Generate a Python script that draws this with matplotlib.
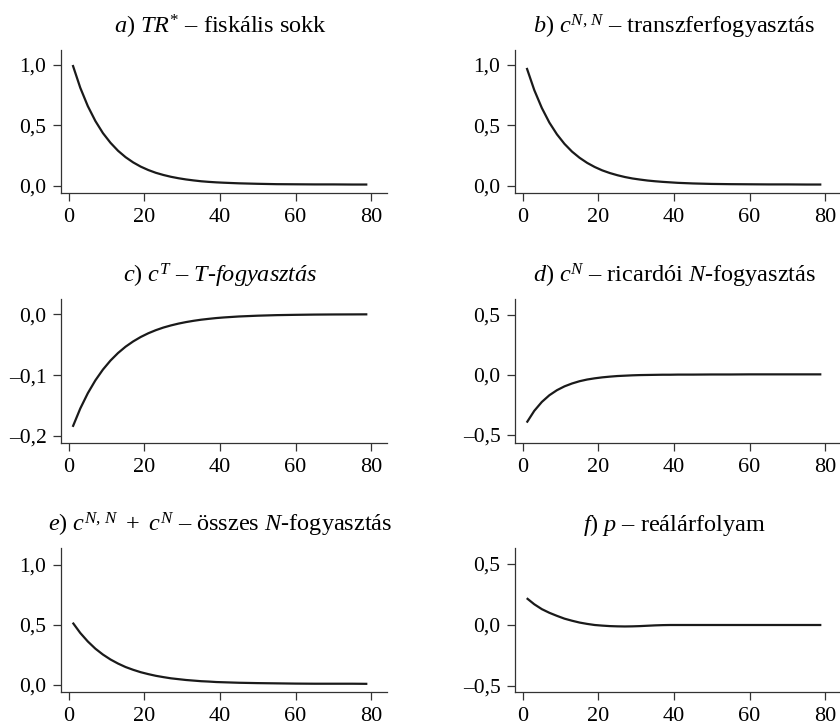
import matplotlib
matplotlib.use("Agg")
import matplotlib.pyplot as plt
from matplotlib.ticker import FuncFormatter

plt.rcParams['font.family'] = ['Liberation Serif', 'DejaVu Serif']
plt.rcParams['mathtext.fontset'] = 'custom'
plt.rcParams['mathtext.rm'] = 'Liberation Serif'
plt.rcParams['mathtext.it'] = 'Liberation Serif:italic'
plt.rcParams['mathtext.bf'] = 'Liberation Serif:bold'

# ---- adatok (leolvasva az ábráról) ----
periods = [1, 3, 5, 7, 9, 11, 13, 15, 17, 19, 21, 23, 25, 27, 29, 31, 33, 35, 37, 39, 41,
           45, 50, 55, 60, 65, 70, 75, 79]

tr_shock = [1.000, 0.812, 0.660, 0.537, 0.437, 0.357, 0.291, 0.238, 0.195, 0.160, 0.132,
            0.109, 0.091, 0.076, 0.064, 0.054, 0.046, 0.039, 0.034, 0.030, 0.027,
            0.022, 0.018, 0.015, 0.014, 0.013, 0.013, 0.012, 0.012]

c_transfer = [0.976, 0.793, 0.645, 0.524, 0.427, 0.348, 0.284, 0.233, 0.191, 0.157, 0.129,
              0.107, 0.089, 0.074, 0.062, 0.053, 0.045, 0.039, 0.034, 0.030, 0.026,
              0.021, 0.017, 0.015, 0.014, 0.013, 0.013, 0.012, 0.012]

c_tradable = [-0.1850, -0.1549, -0.1297, -0.1086, -0.0909, -0.0761, -0.0637, -0.0533,
              -0.0447, -0.0374, -0.0313, -0.0262, -0.0219, -0.0184, -0.0154, -0.0129,
              -0.0108, -0.0090, -0.0076, -0.0063, -0.0053, -0.0037, -0.0024, -0.0015,
              -0.0010, -0.0006, -0.0004, -0.0003, -0.0002]

c_ricardian = [-0.397, -0.299, -0.225, -0.169, -0.127, -0.095, -0.071, -0.052, -0.038, -0.028,
               -0.020, -0.014, -0.009, -0.006, -0.003, -0.001, 0.000, 0.001, 0.002, 0.002,
               0.003, 0.003, 0.004, 0.004, 0.005, 0.005, 0.005, 0.005, 0.005]

c_nontradable = [0.520, 0.434, 0.363, 0.303, 0.254, 0.213, 0.179, 0.150, 0.127, 0.107, 0.091,
                 0.077, 0.066, 0.056, 0.049, 0.042, 0.037, 0.032, 0.029, 0.025, 0.023,
                 0.019, 0.016, 0.014, 0.012, 0.011, 0.011, 0.011, 0.010]

real_exch = [0.220, 0.170, 0.130, 0.100, 0.075, 0.052, 0.035, 0.020, 0.009, 0.000, -0.005,
             -0.009, -0.011, -0.012, -0.011, -0.009, -0.006, -0.003, -0.001, 0.000, 0.000,
             0.000, 0.000, 0.000, 0.000, 0.000, 0.000, 0.000, 0.000]

titles = [
    r"$a)\ TR^{*}$ – fiskális sokk",
    r"$b)\ c^{N,\,N}$ – transzferfogyasztás",
    r"$c)\ c^{T}$ – $T$-$fogyasztás$",
    r"$d)\ c^{N}$ – ricardói $N$-fogyasztás",
    r"$e)\ c^{N,\,N}\ +\ c^{N}$ – összes $N$-fogyasztás",
    r"$f)\ p$ – reálárfolyam",
]
series = [tr_shock, c_transfer, c_tradable, c_ricardian, c_nontradable, real_exch]
yticks = [[0, 0.5, 1.0], [0, 0.5, 1.0], [-0.2, -0.1, 0.0],
          [-0.5, 0.0, 0.5], [0, 0.5, 1.0], [-0.5, 0.0, 0.5]]
ylims = [(-0.058, 1.124), (-0.058, 1.124), (-0.2115, 0.025),
         (-0.567, 0.633), (-0.058, 1.142), (-0.549, 0.631)]

# ---- elrendezés (pixelben mérve) ----
W, H = 840, 726
fig = plt.figure(figsize=(W / 100, H / 100), dpi=100)
col_left = [61, 515]
row_top = [50, 299, 548]
row_bot = [193, 443, 692]
ax_w = 326

def fmt(v, pos):
    s = f"{v:.1f}".replace('.', ',')
    if v < 0:
        s = '\u2013' + s[1:]
    return s

spine_col = '#333333'
for i in range(6):
    r, c = divmod(i, 2)
    rect = [col_left[c] / W, (H - row_bot[r]) / H, ax_w / W, (row_bot[r] - row_top[r]) / H]
    ax = fig.add_axes(rect)
    ax.plot(periods, series[i], color='#1a1a1a', lw=1.6, solid_capstyle='butt')
    ax.set_xlim(-2.1, 84.2)
    ax.set_ylim(*ylims[i])
    ax.set_xticks([0, 20, 40, 60, 80])
    ax.set_yticks(yticks[i])
    ax.yaxis.set_major_formatter(FuncFormatter(fmt))
    for s in ['top', 'right']:
        ax.spines[s].set_visible(False)
    for s in ['left', 'bottom']:
        ax.spines[s].set_color(spine_col)
        ax.spines[s].set_linewidth(0.9)
    ax.tick_params(axis='both', direction='out', length=5.5, width=0.9, color=spine_col)
    ax.tick_params(axis='x', labelsize=16, pad=5)
    ax.tick_params(axis='y', labelsize=15.5, pad=5)
    ax.set_title(titles[i], fontsize=17.5, x=0.488, pad=12)

fig.savefig('out.png', dpi=100)
